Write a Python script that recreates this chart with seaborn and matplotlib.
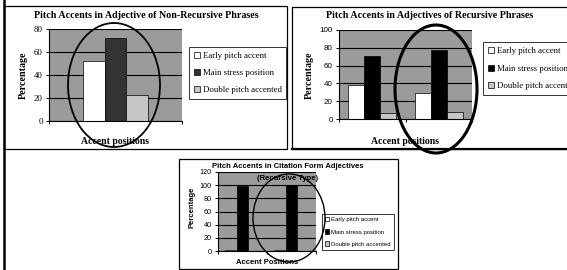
import numpy as np
import pandas as pd
import matplotlib
matplotlib.use("Agg")
import matplotlib.pyplot as plt
import seaborn as sns
from matplotlib.patches import Ellipse, Rectangle

# data
series = ['Early pitch accent', 'Main stress position', 'Double pitch accented']
nonrec_groups = ['Adjective']
nonrec_early = [52]
nonrec_main = [72]
nonrec_double = [23]

rec_groups = ['First', 'Second']
rec_early = [38, 29]
rec_main = [71, 77]
rec_double = [7, 8]

cit_groups = ['First', 'Second']
cit_early = [1, 1]
cit_main = [98, 100]
cit_double = [0, 0]

W, H = 567, 270
SERIF = 'Liberation Serif'
SANS = 'Liberation Sans'
BG = '#9b9b9b'


def long_df(groups, early, main, double):
    rows = []
    for vals, name in zip([early, main, double], series):
        for g, v in zip(groups, vals):
            rows.append({'group': g, 'series': name, 'pct': v})
    return pd.DataFrame(rows)


def ax_at(fig, x0, y0, x1, y1):
    # pixel box (top-left origin) -> figure axes
    return fig.add_axes([x0 / W, 1 - y1 / H, (x1 - x0) / W, (y1 - y0) / H])


def draw_panel(ax, df, palette, ymax, width, tickfont, tickfs, leg_xy, legfont, legfs, legspace):
    sns.barplot(data=df, x='group', y='pct', hue='series', hue_order=series,
                palette=palette, edgecolor='black', linewidth=0.5, width=width,
                saturation=1, ax=ax)
    ax.set_facecolor(BG)
    ax.set_ylim(0, ymax)
    ax.set_yticks(np.arange(0, ymax + 1, 20))
    ax.set_yticklabels([str(int(v)) for v in np.arange(0, ymax + 1, 20)],
                       fontfamily=tickfont, fontsize=tickfs)
    n = df['group'].nunique()
    ax.set_xticks(np.arange(-0.5, n, 1.0))
    ax.set_xticklabels([])
    ax.set_xlim(-0.5, n - 0.5)
    ax.tick_params(axis='both', direction='out', length=2.5, width=0.7, pad=2, colors='black')
    ax.yaxis.grid(True, color='black', lw=0.8)
    ax.set_axisbelow(True)
    for s in ['top', 'right']:
        ax.spines[s].set_visible(False)
    for s in ['left', 'bottom']:
        ax.spines[s].set_color('black')
        ax.spines[s].set_linewidth(0.8)
    ax.set_xlabel('')
    ax.set_ylabel('')
    handles, labels = ax.get_legend_handles_labels()
    leg = ax.legend(handles, labels, loc='upper left',
                    bbox_to_anchor=(leg_xy[0] / W, 1 - leg_xy[1] / H),
                    bbox_transform=ax.figure.transFigure, borderaxespad=0,
                    frameon=True, fancybox=False, edgecolor='black',
                    prop={'family': legfont, 'size': legfs},
                    handlelength=0.7, handleheight=0.7, handletextpad=0.3,
                    labelspacing=legspace, borderpad=0.55)
    leg.get_frame().set_linewidth(0.7)
    leg.set_zorder(5)


fig = plt.figure(figsize=(W / 100, H / 100), dpi=100)

# panel 1: non-recursive
ax1 = ax_at(fig, 49, 29, 182, 121)
draw_panel(ax1, long_df(nonrec_groups, nonrec_early, nonrec_main, nonrec_double),
           ['white', '#333333', '#c6c6c6'], 80, 0.49, SERIF, 6.3,
           (189, 47), SERIF, 6.3, 1.0)

# panel 2: recursive
ax2 = ax_at(fig, 339, 30, 472, 119)
draw_panel(ax2, long_df(rec_groups, rec_early, rec_main, rec_double),
           ['white', 'black', '#c6c6c6'], 100, 0.72, SANS, 5.8,
           (483, 42), SERIF, 6.3, 1.1)

# panel 3: citation form
ax3 = ax_at(fig, 218, 172, 316, 251)
draw_panel(ax3, long_df(cit_groups, cit_early, cit_main, cit_double),
           ['white', 'black', '#c6c6c6'], 120, 0.71, SANS, 5.2,
           (322, 214), SANS, 4.3, 1.15)

# overlay in pixel coordinates for boxes, labels and hand-drawn ellipses
ov = fig.add_axes([0, 0, 1, 1], zorder=10)
ov.set_xlim(0, W)
ov.set_ylim(H, 0)
ov.axis('off')
ov.patch.set_alpha(0)

ov.add_patch(Rectangle((4, 6), 283, 143, fill=False, ec='black', lw=0.9))
ov.add_patch(Rectangle((292, 7), 285, 142, fill=False, ec='black', lw=0.9))
ov.plot([292, 567], [149, 149], color='black', lw=1.6)
ov.add_patch(Rectangle((179, 159), 219, 110, fill=False, ec='black', lw=0.9))
ov.plot([3.5, 3.5], [0, 270], color='black', lw=1.8)

tb = dict(fontweight='bold', ha='center', va='center')
ov.text(146, 16, 'Pitch Accents in Adjective of Non-Recursive Phrases', family=SERIF, fontsize=7.2, **tb)
ov.text(23, 75, 'Percentage', family=SERIF, fontsize=7.2, rotation=90, **tb)
ov.text(115, 141, 'Accent positions', family=SERIF, fontsize=7, **tb)

ov.text(430, 16, 'Pitch Accents in Adjectives of Recursive Phrases', family=SERIF, fontsize=7.2, **tb)
ov.text(309, 75, 'Percentage', family=SERIF, fontsize=7.2, rotation=90, **tb)
ov.text(405, 141, 'Accent positions', family=SERIF, fontsize=7, **tb)

ov.text(288, 166, 'Pitch Accents in Citation Form Adjectives', family=SANS, fontsize=5.5, **tb)
ov.text(288, 178, '(Recursive Type)', family=SANS, fontsize=5.5, **tb)
ov.text(192, 207, 'Percentage', family=SANS, fontsize=5.5, rotation=90, **tb)
ov.text(267, 263, 'Accent Positions', family=SANS, fontsize=5.5, **tb)

ov.add_patch(Ellipse((114, 85), 92, 124, fill=False, ec='black', lw=1.3))
ov.add_patch(Ellipse((436, 89), 82, 128, fill=False, ec='black', lw=2.2))
ov.add_patch(Ellipse((289, 218), 72, 88, fill=False, ec='black', lw=1.0))

fig.savefig('out.png', dpi=100)
